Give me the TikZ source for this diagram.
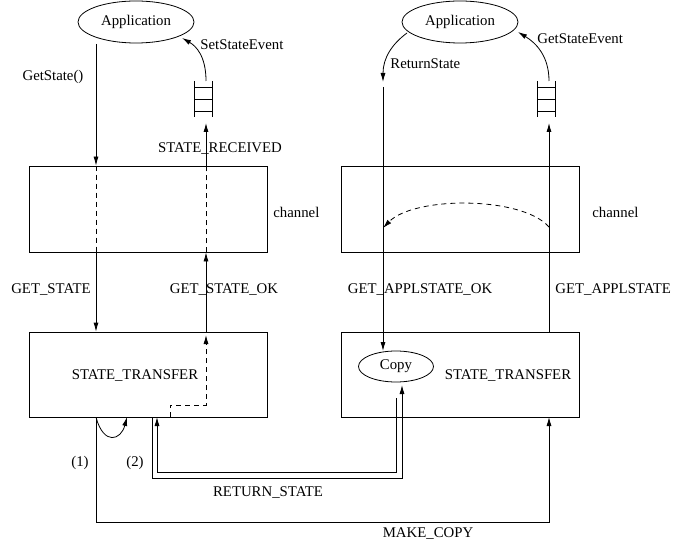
\documentclass[tikz,border=0pt]{standalone}
\usepackage{fontspec}
\setmainfont{Liberation Serif}
\usetikzlibrary{arrows.meta,shapes.geometric}
\begin{document}
\begin{tikzpicture}[x=1bp,y=-1bp,line width=0.8bp,
  every node/.style={font=\fontsize{14.8bp}{17bp}\selectfont,inner sep=0pt},
  tip/.style={-{Latex[length=9bp,width=5bp]}},
  dashline/.style={dash pattern=on 5bp off 4bp},
  box/.style={draw,rectangle,minimum width=238bp,minimum height=86bp},
  app/.style={draw,ellipse,minimum width=116bp,minimum height=42bp},
  lblw/.style={anchor=west}]
\useasboundingbox (0,0) rectangle (673,546);
% nodes
\node[app] (appL) at (136,22) {Application};
\node[app] (appR) at (460,22) {Application};
\node[box] (chL) at (148,209) {};
\node[box] (chR) at (460,209) {};
\node[box,minimum height=85bp] (stL) at (148,374.5) {};
\node[box,minimum height=85bp] (stR) at (460,374.5) {};
\node[draw,ellipse,minimum width=75bp,minimum height=31bp] (copy) at (396,366.5) {Copy};
% labels
\node (tGS) at (53,77) {GetState()};
\node[lblw] (tSSE) at (200,45) {SetStateEvent};
\node (tSR) at (220,149) {STATE\_RECEIVED};
\node[lblw] (tchL) at (273,212) {channel};
\node (tGSt) at (51,290) {GET\_STATE};
\node (tGSO) at (224,290) {GET\_STATE\_OK};
\node (tSTL) at (135,376) {STATE\_TRANSFER};
\node (t1) at (80,463) {(1)};
\node (t2) at (135,463) {(2)};
\node (tRS) at (268,493) {RETURN\_STATE};
\node (tMC) at (428,534) {MAKE\_COPY};
\node[lblw] (tRSt) at (390,64) {ReturnState};
\node[lblw] (tGSE) at (537,39) {GetStateEvent};
\node[lblw] (tchR) at (592,212) {channel};
\node (tGAO) at (420,290) {GET\_APPLSTATE\_OK};
\node[lblw] (tGA) at (555,290) {GET\_APPLSTATE};
\node (tSTR) at (508,376) {STATE\_TRANSFER};
% queues
\foreach \n/\x in {qL/194,qR/537}{
  \coordinate (\n) at (\x,81);
  \draw (\x,81) -- (\x,117) (\x+18,81) -- (\x+18,117);
  \foreach \y in {87,99,111} \draw (\x,\y) -- (\x+18,\y);
}
% coordinates
\coordinate (a1) at (96,44);
\coordinate (qLb) at (206,123);
\coordinate (qLt) at (206,81);
\coordinate (qRb) at (549,123);
\coordinate (qRt) at (549,81);
\coordinate (d1) at (170,417);
\coordinate (d2) at (170,405);
\coordinate (d3) at (206,405);
\coordinate (d4) at (206,335);
\coordinate (r1) at (407,33);
\coordinate (r2) at (383,82);
\coordinate (r3) at (383,87);
\coordinate (c1) at (383,351);
\coordinate (c2) at (396,398);
\coordinate (c3) at (402,385);
\coordinate (arcA) at (549,227);
\coordinate (arcB) at (383,228);
% left column down
\draw[tip] (a1) -- (a1 |- chL.north);
\draw[dashline] (a1 |- chL.north) -- (a1 |- chL.south);
\draw[tip] (a1 |- chL.south) -- (a1 |- stL.north);
% left column up
\draw[dashline,tip] (d1) -- (d2) -- (d3) -- (d4);
\draw[tip] (d3 |- stL.north) -- (d3 |- chL.south);
\draw[dashline] (d3 |- chL.south) -- (d3 |- chL.north);
\draw[tip] (d3 |- chL.north) -- (qLb);
\draw[tip] (qLt) .. controls (206,56) and (196,46) .. (182,38);
% self loop
\draw[tip] (a1 |- stL.south) .. controls (104,446) and (121,440) .. (127,417);
% return state
\draw[tip] (c2) -- (396,472) -- (157,472) -- (157,417);
\draw[tip] (152,417) -- (152,478) -- (402,478) -- (c3);
% make copy
\draw[tip] (a1 |- stL.south) -- (96,522) -- (549,522) -- (549,417);
% right column
\draw[tip] (r1) .. controls (392,44) and (383,58) .. (r2);
\draw[tip] (r3) -- (c1);
\draw[dashline,tip] (arcA) .. controls (522,196) and (414,196) .. (arcB);
\draw[tip] (qRb |- stR.north) -- (qRb);
\draw[tip] (qRt) .. controls (549,56) and (536,43) .. (518,32);
\end{tikzpicture}
\end{document}
